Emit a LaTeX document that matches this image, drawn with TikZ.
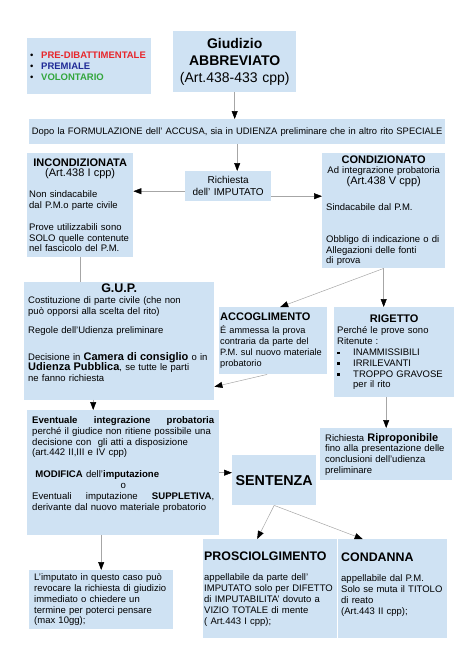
\documentclass[tikz,border=0pt]{standalone}
\usepackage{fontspec}
\setmainfont{Liberation Sans}
\usetikzlibrary{arrows.meta, positioning, calc}
\definecolor{boxblue}{HTML}{CFE2F3}
\definecolor{linegray}{HTML}{A6A6A6}
\definecolor{predibred}{HTML}{E8262B}
\definecolor{premialblue}{HTML}{1F2A96}
\definecolor{volontgreen}{HTML}{33A63C}
\newcommand{\titlefont}{\fontsize{11}{13}\selectfont}
\newcommand{\sqbul}{\makebox[16pt][l]{\raisebox{1.5pt}{\rule{2.4pt}{2.4pt}}}}

\begin{document}
\begin{tikzpicture}[x=1pt, y=-1pt, font=\fontsize{9.5}{10.8}\selectfont,
    box/.style={rectangle, fill=boxblue, anchor=north west, align=left, inner xsep=2pt, inner ysep=2pt},
    conn/.style={-{Triangle[length=8pt, width=6pt, color=black]}, line width=0.5pt, linegray},
    link/.style={line width=0.5pt, linegray}]

    \useasboundingbox (0,0) rectangle (474,670);

    % top row
    \node (tipo) [box, inner xsep=3pt, text width=118pt, minimum height=56pt] at (27,38)
      {\makebox[11pt][l]{\textbullet}\textcolor{predibred}{\textbf{PRE-DIBATTIMENTALE}}\\
       \makebox[11pt][l]{\textbullet}\textcolor{premialblue}{\textbf{PREMIALE}}\\
       \makebox[11pt][l]{\textbullet}\textcolor{volontgreen}{\textbf{VOLONTARIO}}};
    \node (giud) [box, align=center, text width=119pt, minimum height=61pt, font=\fontsize{14}{17}\selectfont] at (173,31)
      {\textbf{Giudizio}\\\textbf{ABBREVIATO}\\(Art.438-433 cpp)};
    \node (dopo) [box, align=center, inner xsep=0pt, text width=416pt, minimum height=25pt, font=\fontsize{9.4}{10.8}\selectfont] at (29,119)
      {\mbox{Dopo la FORMULAZIONE dell' ACCUSA, sia in UDIENZA preliminare che in altro rito SPECIALE}};

    % richiesta
    \node (rich) [box, align=center, text width=82pt, minimum height=30pt, font=\fontsize{10}{12.3}\selectfont] at (185,171)
      {Richiesta\\dell' IMPUTATO};
    \node (incond) [box, text width=102pt, minimum height=104pt] at (27,153)
      {{\centering{\titlefont\textbf{INCONDIZIONATA}}\\{\titlefont(Art.438 I cpp)}\par}
       \vspace{10pt}
       Non sindacabile\\dal P.M.o parte civile\\[11pt]
       Prove utilizzabili sono\\SOLO quelle contenute\\nel fascicolo del P.M.};
    \node (cond) [box, inner xsep=4pt, text width=115pt, minimum height=115pt] at (322,153)
      {{\centering{\titlefont\textbf{CONDIZIONATO}}\\Ad integrazione probatoria\\{\titlefont(Art.438 V cpp)}\par}
       \vspace{15pt}
       Sindacabile dal P.M.\\[21pt]
       Obbligo di indicazione o di\\Allegazioni delle fonti\\di prova};

    % gup and esiti
    \node (gup) [box, inner xsep=4pt, text width=182pt, minimum height=117pt] at (24,282)
      {{\centering\fontsize{12.5}{14}\selectfont\textbf{G.U.P.}\par}
       Costituzione di parte civile (che non\\può opporsi alla scelta del rito)\\[8pt]
       Regole dell'Udienza preliminare\\[16pt]
       Decisione in {\titlefont\textbf{Camera di consiglio}} o in\\{\titlefont\textbf{Udienza Pubblica}}, se tutte le parti\\ne fanno richiesta\\[5pt]\mbox{}};
    \node (accog) [box, inner xsep=1pt, text width=106pt, minimum height=67pt, font=\fontsize{9.2}{10.8}\selectfont] at (219,307)
      {{\titlefont\textbf{ACCOGLIMENTO}}\\[2pt]É ammessa la prova\\contraria da parte del\\P.M. sul nuovo materiale\\probatorio};
    \node (rig) [box, inner xsep=3pt, text width=114pt, minimum height=90pt] at (334,307)
      {{\centering\titlefont\textbf{RIGETTO}\par}
       \vspace{1pt}
       Perché le prove sono\\Ritenute :\\
       \sqbul INAMMISSIBILI\\\sqbul IRRILEVANTI\\\sqbul TROPPO GRAVOSE\\\hspace*{16pt}per il rito};

    % integrazione e sentenza
    \node (event) [box, inner xsep=5pt, text width=182pt, minimum height=125pt, font=\fontsize{9.6}{10.8}\selectfont] at (27,410)
      {\textbf{Eventuale}\hfill\textbf{integrazione}\hfill\textbf{probatoria}\\
       perché il giudice non ritiene possibile una\\decisione con\ \ gli atti a disposizione\\(art.442 II,III e IV cpp)\\[11pt]
       \ \textbf{MODIFICA} dell'\textbf{imputazione}\\\mbox{}\hfill o\hfill\mbox{}\\
       Eventuali\hfill imputazione\hfill\textbf{SUPPLETIVA},\\derivante dal nuovo materiale probatorio\\[8pt]\mbox{}};
    \node (sent) [box, align=center, text width=80pt, minimum height=50pt, font=\fontsize{14.3}{16}\selectfont\bfseries] at (232,455)
      {SENTENZA};
    \node (ripr) [box, inner xsep=5pt, text width=122pt, minimum height=52pt] at (320,428)
      {Richiesta {\titlefont\textbf{Riproponibile}}\\fino alla presentazione delle\\conclusioni dell'udienza\\preliminare};

    % bottom row
    \node (imput) [box, inner xsep=5pt, text width=134pt, minimum height=59pt] at (29,570)
      {L'imputato in questo caso può\\revocare la richiesta di giudizio\\immediato o chiedere un\\termine per poterci pensare\\(max 10gg);};
    \node (prosc) [box, inner xsep=1pt, text width=132pt, minimum height=99pt] at (203,539)
      {{\fontsize{12.4}{14}\selectfont\textbf{PROSCIOLGIMENTO}}\\[10pt]
       appellabile da parte dell'\\IMPUTATO solo per DIFETTO\\di IMPUTABILITA' dovuto a\\VIZIO TOTALE di mente\\( Art.443 I cpp);};
    \node (condanna) [box, inner xsep=3pt, text width=103pt, minimum height=99pt] at (338,539)
      {{\fontsize{12.4}{14}\selectfont\textbf{CONDANNA}}\\[10pt]
       appellabile dal P.M.\\Solo se muta il TITOLO\\di reato\\(Art.443 II cpp);\\\mbox{}};

    % connectors
    \draw [conn] (giud.south) -- (giud.south |- dopo.north);
    \draw [conn] (dopo.south) -- (dopo.south |- rich.north);
    \draw [conn] ([yshift=-5pt]rich.west) -- ([yshift=-5pt]rich.west -| incond.east);
    \draw [conn] ([yshift=-10pt]rich.east) -- ([yshift=-10pt]rich.east -| cond.west);
    \draw [link] (incond.south) -- (incond.south |- gup.north);
    \draw [conn] (cond.south) -- ([xshift=7pt]accog.north);
    \draw [conn] (cond.south) -- (cond.south |- rig.north);
    \draw [conn] ([xshift=-6pt]accog.south) -- ($(gup.south east)+(0,-13)$);
    \draw [conn] ([xshift=-26pt]gup.south) -- ([xshift=-26pt]gup.south |- event.north);
    \draw [conn] ([xshift=-8pt]rig.south) -- ([xshift=-8pt]rig.south |- ripr.north);
    \draw [conn] (event.east) -- (event.east -| sent.west);
    \draw [conn] (sent.south) -- ([xshift=-13pt]prosc.north);
    \draw [conn] (sent.south) -- ([xshift=-30pt]condanna.north);
    \draw [conn] (event.south -| imput.north) -- (imput.north);
\end{tikzpicture}
\end{document}
